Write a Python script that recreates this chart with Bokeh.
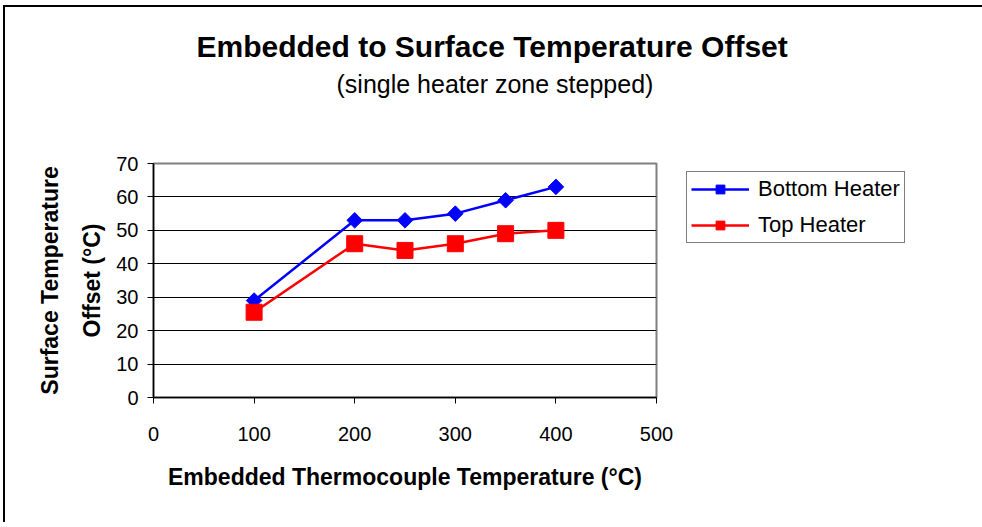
import math
from bokeh.plotting import figure
from bokeh.models import Legend, LegendItem, Title, Range1d, FixedTicker
from bokeh.embed import file_html
from bokeh.resources import INLINE

# Data
x_vals = [100, 200, 250, 300, 350, 400]
bottom_heater = [29, 53, 53, 55, 59, 63]
top_heater = [25.5, 46, 44, 46, 49, 50]
x_ticks = [0, 100, 200, 300, 400, 500]
y_ticks = [0, 10, 20, 30, 40, 50, 60, 70]

FONT = "Liberation Sans"

p = figure(
    frame_width=503, frame_height=234,
    output_backend="svg", toolbar_location=None,
    x_range=Range1d(0, 500), y_range=Range1d(0, 70),
    min_border_left=148, min_border_right=320, min_border_bottom=125, min_border_top=156,
    background_fill_color="white", border_fill_color="white",
)
p.styles = {"border-left": "2px solid black", "border-top": "2px solid black",
            "margin-left": "3px", "margin-top": "5px"}

# Titles
p.title.text = "Embedded to Surface Temperature Offset"
p.title.text_font = FONT
p.title.text_font_size = "30px"
p.title.text_font_style = "bold"
p.title.text_color = "black"
p.title.align = "left"
p.title.offset = 43
p.title.standoff = 0
p.add_layout(Title(text="(single heater zone stepped)\n", text_font=FONT,
                   text_font_size="25px", text_font_style="normal", text_color="black",
                   text_line_height=2.17, align="left", offset=183, standoff=10), "above")

# Frame / grid
p.outline_line_color = "#808080"
p.outline_line_width = 2
p.xgrid.visible = False
p.ygrid.grid_line_color = "black"
p.ygrid.grid_line_width = 1

for ax in (p.xaxis[0], p.yaxis[0]):
    ax.axis_line_color = "black"
    ax.axis_line_width = 1.5
    ax.major_tick_line_color = "black"
    ax.major_tick_in = 0
    ax.major_tick_out = 6
    ax.minor_tick_line_color = None
    ax.major_label_text_font = FONT
    ax.major_label_text_font_size = "20px"
    ax.major_label_text_color = "black"
    ax.axis_label_text_font = FONT
    ax.axis_label_text_font_size = "23px"
    ax.axis_label_text_font_style = "bold"
    ax.axis_label_text_color = "black"

p.xaxis.ticker = FixedTicker(ticks=x_ticks)
p.yaxis.ticker = FixedTicker(ticks=y_ticks)
p.xaxis.axis_label = "Embedded Thermocouple Temperature (°C)"
p.yaxis.axis_label = "Surface Temperature\nOffset (°C)"
p.yaxis.axis_label_text_line_height = 1.63
p.xaxis.major_label_standoff = 23
p.xaxis.axis_label_standoff = 20
p.yaxis.major_label_standoff = 9
p.yaxis.axis_label_standoff = 8

# Series
bl = p.line(x_vals, bottom_heater, line_color="#0000FF", line_width=2.5)
bm = p.scatter(x_vals, bottom_heater, marker="square", angle=math.pi / 4, size=11,
               fill_color="#0000FF", line_color="#0000FF")
tl = p.line(x_vals, top_heater, line_color="#FF0000", line_width=2.5)
tm = p.scatter(x_vals, top_heater, marker="square", size=16, fill_color="#FF0000", line_color="#FF0000")

legend = Legend(items=[LegendItem(label="Bottom Heater", renderers=[bl, bm]),
                       LegendItem(label="Top Heater", renderers=[tl, tm])],
                location=(30, 154))
legend.border_line_color = "black"
legend.border_line_width = 1.5
legend.background_fill_color = "white"
legend.background_fill_alpha = 1
legend.label_text_font = FONT
legend.label_text_font_size = "22px"
legend.label_text_color = "black"
legend.glyph_width = 58
legend.glyph_height = 22
legend.label_height = 22
legend.spacing = 10
legend.padding = 4
legend.label_standoff = 9
legend.margin = 0
p.add_layout(legend, "right")

open("out.html", "w").write(file_html(p, INLINE))
